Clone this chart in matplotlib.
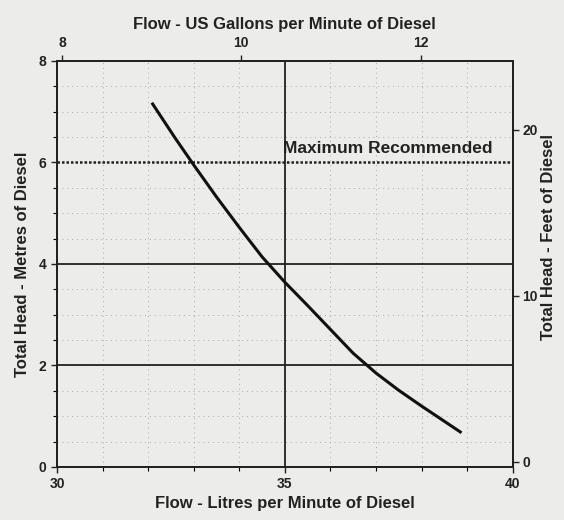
import matplotlib.pyplot as plt
import numpy as np

# Curva da bomba: vazão (L/min) x altura (m)
vazao_l = [32.1, 32.6, 33.0, 33.5, 34.0, 34.5, 35.0, 35.5, 36.0, 36.5,
           37.0, 37.5, 38.0, 38.5, 38.85]
altura_m = [7.15, 6.47, 5.95, 5.32, 4.72, 4.14, 3.64, 3.18, 2.71, 2.24,
            1.85, 1.51, 1.20, 0.90, 0.69]

x_ticks = [30, 35, 40]
y_ticks = [0, 2, 4, 6, 8]
gal_ticks = [8, 10, 12]
feet_ticks = [0, 10, 20]

plt.rcParams['font.family'] = ['Liberation Sans', 'DejaVu Sans']
bg = '#ececea'
ink = '#222222'

fig = plt.figure(figsize=(5.64, 5.2), dpi=100, facecolor=bg)
ax = fig.add_axes([0.101, 0.102, 0.808, 0.781], facecolor=bg)

ax.set_xlim(30, 40)
ax.set_ylim(0, 8)

# grade fraca pontilhada
for v in np.arange(31, 40, 1):
    ax.axvline(v, color='#aaaaaa', lw=0.7, ls=(0, (1, 4)), zorder=1)
for h in np.arange(0.5, 8, 0.5):
    ax.axhline(h, color='#aaaaaa', lw=0.7, ls=(0, (1, 4)), zorder=1)

# linhas principais
for h in [2, 4]:
    ax.axhline(h, color=ink, lw=1.3, zorder=2)
ax.axhline(6, color=ink, lw=1.8, ls=(0, (1, 0.8)), zorder=2)
ax.axvline(35, color=ink, lw=1.3, zorder=2)

ax.plot(vazao_l, altura_m, color='#111111', lw=2.2, zorder=3)

ax.text(34.95, 6.12, 'Maximum Recommended', fontsize=12.5, fontweight='bold',
        color=ink, ha='left', va='bottom')

ax.set_xticks(x_ticks)
ax.set_xticks(np.arange(31, 40, 1), minor=True)
ax.set_yticks(y_ticks)
ax.set_yticks(np.arange(0.5, 8, 0.5), minor=True)
ax.tick_params(labelsize=10, colors=ink, length=4, width=1)
ax.tick_params(which='minor', length=3, width=0.8)
for lab in ax.get_xticklabels() + ax.get_yticklabels():
    lab.set_fontweight('bold')
for s in ax.spines.values():
    s.set_linewidth(1.3)
    s.set_color(ink)

ax.set_xlabel('Flow - Litres per Minute of Diesel', fontsize=12,
              fontweight='bold', color=ink, labelpad=3)
ax.set_ylabel('Total Head - Metres of Diesel', fontsize=12,
              fontweight='bold', color=ink, labelpad=6)

# eixo de cima: galões
ax_top = ax.twiny()
ax_top.set_xlim(7.944, 13.025)
ax_top.set_xticks(gal_ticks)
ax_top.tick_params(labelsize=10, colors=ink, length=4, width=1)
for lab in ax_top.get_xticklabels():
    lab.set_fontweight('bold')
ax_top.set_xlabel('Flow - US Gallons per Minute of Diesel', fontsize=12,
                  fontweight='bold', color=ink, labelpad=5)

# eixo da direita: pés
ax_r = ax.twinx()
ax_r.set_ylim(-0.3, 24.16)
ax_r.set_yticks(feet_ticks)
ax_r.tick_params(labelsize=10, colors=ink, length=4, width=1, pad=3)
for lab in ax_r.get_yticklabels():
    lab.set_fontweight('bold')
fig.text(0.972, 0.545, 'Total Head - Feet of Diesel', rotation=90,
         fontsize=12, fontweight='bold', color=ink, ha='center', va='center')

for a in [ax_top, ax_r]:
    for s in a.spines.values():
        s.set_linewidth(1.3)
        s.set_color(ink)

fig.savefig('out.png', dpi=100, facecolor=bg)
